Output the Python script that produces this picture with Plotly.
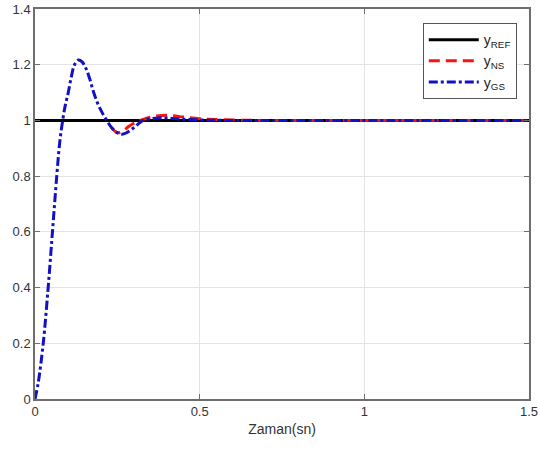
import plotly.graph_objects as go

# Time axis (seconds) and step-response samples (GS controller)
t_gs = [0, 0.01, 0.025, 0.04, 0.053, 0.066, 0.075, 0.084, 0.092, 0.101,
        0.11, 0.12, 0.132, 0.143, 0.155, 0.166, 0.177, 0.19, 0.204,
        0.218, 0.232, 0.248, 0.264, 0.28, 0.296, 0.312, 0.328, 0.35,
        0.375, 0.4, 0.43, 0.47, 0.52, 0.6, 0.7, 1.5]
y_gs = [0, 0.06, 0.2, 0.4, 0.6, 0.8, 0.92, 1.0, 1.055, 1.1,
        1.155, 1.2, 1.217, 1.21, 1.186, 1.15, 1.105, 1.062, 1.028,
        1.0, 0.975, 0.957, 0.950, 0.957, 0.970, 0.986, 1.0, 1.006,
        1.009, 1.009, 1.006, 1.003, 1.001, 1.0, 1.0, 1.0]

# NS controller: identical to GS up to t = 0.232 s, so only the part
# where the two responses separate is drawn (GS covers the rest)
t_ns = [0.232, 0.248, 0.26, 0.272, 0.284, 0.3, 0.316, 0.334, 0.355, 0.375,
        0.395, 0.42, 0.45, 0.5, 0.55, 0.62, 0.7, 1.5]
y_ns = [0.975, 0.957, 0.957, 0.966, 0.978, 0.99, 0.999, 1.006, 1.013, 1.017,
        1.019, 1.017, 1.012, 1.006, 1.003, 1.001, 1.0, 1.0]

# Reference
t_ref = [0, 1.5]
y_ref = [1, 1]

x_ticks = [0, 0.5, 1, 1.5]
x_tick_text = ["0", "0.5", "1", "1.5"]
y_ticks = [0, 0.2, 0.4, 0.6, 0.8, 1, 1.2, 1.4]
y_tick_text = ["0", "0.2", "0.4", "0.6", "0.8", "1", "1.2", "1.4"]

fig = go.Figure()
fig.add_trace(go.Scatter(x=t_ref, y=y_ref, mode="lines", name="y<sub>REF</sub>",
                         line=dict(color="black", width=3)))
fig.add_trace(go.Scatter(x=t_ns, y=y_ns,
                         mode="lines", name="y<sub>NS</sub>",
                         line=dict(color="#ff1010", width=3, dash="11px,6px",
                                   shape="spline")))
fig.add_trace(go.Scatter(x=t_gs, y=y_gs,
                         mode="lines", name="y<sub>GS</sub>",
                         line=dict(color="#1010c8", width=3,
                                   dash="9px,3px,3px,3px", shape="spline")))

axis_common = dict(
    showgrid=True, gridcolor="#e3e3e3", gridwidth=1,
    showline=True, linecolor="#6e6e6e", linewidth=1.5, mirror="ticks",
    ticks="inside", ticklen=5, tickcolor="#6e6e6e",
    zeroline=False, automargin=False,
    tickfont=dict(family="Liberation Sans, Arial", size=13, color="#333"),
)

fig.update_layout(
    width=539, height=450,
    margin=dict(l=35, r=10, t=9, b=51),
    paper_bgcolor="white", plot_bgcolor="white",
    xaxis=dict(range=[0, 1.5], tickvals=x_ticks, ticktext=x_tick_text,
               title=dict(text="Zaman(sn)", standoff=6,
                          font=dict(family="Liberation Sans, Arial", size=14,
                                    color="#333")),
               **axis_common),
    yaxis=dict(range=[0, 1.4], tickvals=y_ticks, ticktext=y_tick_text,
               **axis_common),
    legend=dict(x=0.785, y=0.964, xanchor="left", yanchor="top",
                bgcolor="white", bordercolor="#555", borderwidth=1,
                itemwidth=50,
                font=dict(family="Liberation Sans, Arial", size=14, color="#222"),
                tracegroupgap=0),
    showlegend=True,
)

fig.write_html("out.html")
